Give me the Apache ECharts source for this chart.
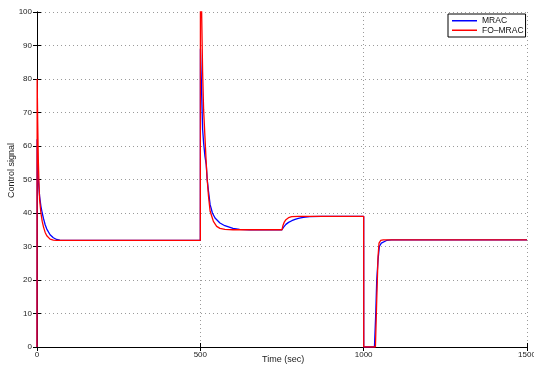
<!DOCTYPE html>
<html>
<head>
<meta charset="utf-8">
<script src="https://cdn.jsdelivr.net/npm/echarts@6/dist/echarts.min.js"></script>
<style>html,body{margin:0;padding:0;background:#fff}#c{width:534px;height:369px}</style>
</head>
<body>
<div id="c"></div>
<script>
// Time samples (sec) and control signal values
const timeMRAC = [0, 0.5, 2, 4, 8, 12, 16, 20, 25, 30, 40, 50, 60, 70, 90, 500,
  500.3, 503, 507, 510, 514, 518, 521, 525, 530, 537, 545, 560, 575, 600, 620, 650, 750,
  755, 762, 770, 780, 790, 800, 815, 835, 870, 1000,
  1000.2, 1033, 1037, 1040, 1044, 1048, 1054, 1060, 1070, 1085, 1100, 1500];
const valuesMRAC = [0, 62, 56, 50, 45, 42, 40, 38.3, 36.5, 35.2, 33.5, 32.6, 32.1, 31.9, 31.8, 31.8,
  89, 80, 65, 61, 57, 54.5, 50, 46.5, 42.5, 40, 38.5, 37, 36.2, 35.4, 35.1, 35, 35,
  35.8, 36.6, 37.2, 37.7, 38.1, 38.4, 38.7, 38.9, 39, 39,
  0, 0, 10, 20, 26, 30, 31, 31.5, 31.8, 31.95, 32, 32];

const timeFO = [0, 0.5, 2, 4, 6, 8, 12, 16, 20, 25, 30, 40, 50, 60, 500,
  500.3, 504, 507, 510, 514, 518, 521, 525, 530, 540, 550, 560, 575, 600, 750,
  753, 757, 762, 770, 780, 800, 1000,
  1000.2, 1036, 1040, 1044, 1047, 1052, 1060, 1500];
const valuesFO = [0, 80, 68, 56, 49, 44, 40, 37.5, 35.8, 34.2, 33.2, 32.2, 31.9, 31.8, 31.8,
  115, 100, 82, 71, 63, 55, 50, 45, 40.5, 37.5, 36, 35.4, 35.1, 35, 35,
  36.3, 37.3, 38, 38.6, 38.9, 39, 39,
  0, 0, 14, 27, 31, 31.8, 32, 32];

const xTicks = [0, 500, 1000, 1500];
const yTicks = [0, 10, 20, 30, 40, 50, 60, 70, 80, 90, 100];

const seriesNames = ['MRAC', 'FO\u2013MRAC'];
const seriesColors = ['#0000ff', '#ff0000'];

const mracData = timeMRAC.map((t, i) => [t, valuesMRAC[i]]);
const foData = timeFO.map((t, i) => [t, valuesFO[i]]);

const chart = echarts.init(document.getElementById('c'), null, {renderer: 'canvas'});
const font = 'Liberation Sans, Arial, Helvetica, sans-serif';
const axisCommon = {
  axisLine: {show: true, lineStyle: {color: '#000', width: 1}},
  axisTick: {show: true, inside: true, length: 4, lineStyle: {color: '#000'}},
};
chart.setOption({
  animation: false,
  backgroundColor: '#fff',
  grid: {left: 37, right: 7, top: 12, bottom: 22, containLabel: false, outerBoundsMode: 'none'},
  xAxis: [
    Object.assign({
      type: 'value', min: xTicks[0], max: xTicks[xTicks.length - 1], interval: 500,
      axisLabel: {fontSize: 8, color: '#222', fontFamily: font, margin: 4, showMaxLabel: true,
        formatter: v => String(v)},
      splitLine: {show: true, lineStyle: {color: '#9a9a9a', type: [1, 3], width: 1}}
    }, axisCommon),
    Object.assign({
      type: 'value', position: 'top', min: xTicks[0], max: xTicks[xTicks.length - 1], interval: 500,
      axisLabel: {show: false}, splitLine: {show: false}
    }, axisCommon)
  ],
  yAxis: [
    Object.assign({
      type: 'value', min: yTicks[0], max: yTicks[yTicks.length - 1], interval: 10,
      axisLabel: {fontSize: 8, color: '#222', fontFamily: font, margin: 5, formatter: v => String(v)},
      splitLine: {show: true, lineStyle: {color: '#9a9a9a', type: [1, 3], width: 1}}
    }, axisCommon),
    Object.assign({
      type: 'value', position: 'right', min: yTicks[0], max: yTicks[yTicks.length - 1], interval: 10,
      axisLabel: {show: false}, splitLine: {show: false}
    }, axisCommon)
  ],
  legend: {
    data: seriesNames.map(n => ({name: n, icon: 'rect'})),
    orient: 'vertical',
    left: 448, top: 14,
    backgroundColor: '#fff',
    borderColor: '#000', borderWidth: 1, borderRadius: 0,
    padding: [2, 2, 2, 4],
    itemGap: 0, itemWidth: 25, itemHeight: 1.5,
    textStyle: {fontSize: 8.5, color: '#111', fontFamily: font, lineHeight: 9.5}
  },
  graphic: [
    {type: 'text', left: 262, top: 355, style: {text: 'Time (sec)', fill: '#222', font: '9px ' + font}},
    {type: 'text', x: 7, y: 198, rotation: Math.PI / 2, style: {text: 'Control signal', fill: '#222', font: '9px ' + font}}
  ],
  series: [
    {name: seriesNames[0], type: 'line', data: mracData, symbol: 'none', smooth: false,
     lineStyle: {color: seriesColors[0], width: 1.3}, itemStyle: {color: seriesColors[0]}, clip: true, z: 2},
    {name: seriesNames[1], type: 'line', data: foData, symbol: 'none', smooth: false,
     lineStyle: {color: seriesColors[1], width: 1.3}, itemStyle: {color: seriesColors[1]}, clip: true, z: 3}
  ]
});
</script>
</body>
</html>
